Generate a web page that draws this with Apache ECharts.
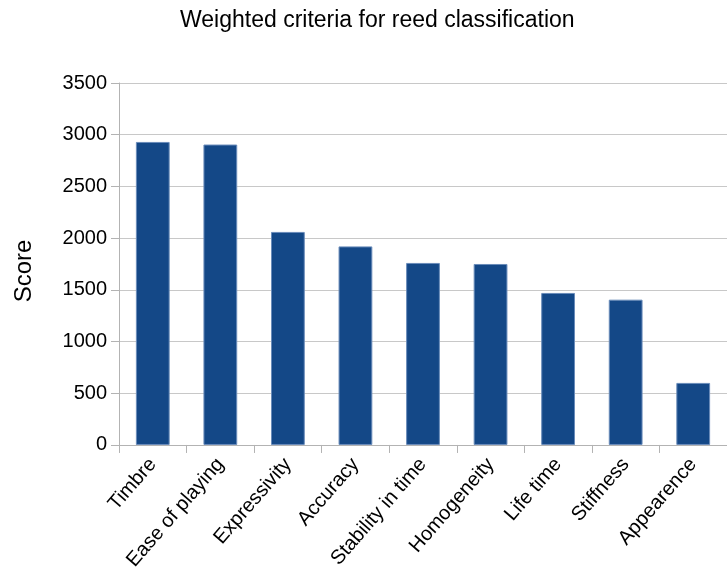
<!DOCTYPE html>
<html>
<head>
<meta charset="utf-8">
<script src="https://cdn.jsdelivr.net/npm/echarts@6/dist/echarts.min.js"></script>
<style>html,body{margin:0;padding:0;background:#fff}#c{width:727px;height:573px}</style>
</head>
<body>
<div id="c"></div>
<script>
const categories = ["Timbre", "Ease of playing", "Expressivity", "Accuracy", "Stability in time", "Homogeneity", "Life time", "Stiffness", "Appearence"];
const scores = [2930, 2905, 2060, 1920, 1760, 1750, 1470, 1405, 600];
const yTicks = [0, 500, 1000, 1500, 2000, 2500, 3000, 3500];

const chart = echarts.init(document.getElementById('c'), null, {renderer: 'canvas'});
const font = '"Liberation Sans", Arial, sans-serif';
chart.setOption({
  animation: false,
  title: {
    text: 'Weighted criteria for reed classification',
    left: 175,
    top: 4,
    textStyle: {fontFamily: font, fontSize: 23, fontWeight: 'normal', color: '#000'}
  },
  grid: {left: 119, right: -9, top: 83, bottom: 127, containLabel: false},
  xAxis: {
    type: 'category',
    data: categories,
    axisLine: {lineStyle: {color: '#b3b3b3'}},
    axisTick: {show: true, length: 8, lineStyle: {color: '#b3b3b3'}},
    axisLabel: {rotate: 49, fontFamily: font, fontSize: 20, color: '#000', margin: 16, interval: 0}
  },
  yAxis: {
    type: 'value',
    min: yTicks[0],
    max: yTicks[yTicks.length - 1],
    interval: 500,
    name: 'Score',
    nameLocation: 'middle',
    nameGap: 83,
    nameTextStyle: {fontFamily: font, fontSize: 24, color: '#000', padding: [0, 14, 0, 0]},
    axisLine: {show: true, lineStyle: {color: '#b3b3b3'}},
    axisTick: {show: true, length: 8, lineStyle: {color: '#b3b3b3'}},
    splitLine: {lineStyle: {color: '#c8c8c8'}},
    axisLabel: {fontFamily: font, fontSize: 20, color: '#000', margin: 12, formatter: v => String(v)}
  },
  series: [{
    type: 'bar',
    data: scores,
    barWidth: '50%',
    itemStyle: {color: '#144887', borderColor: '#6a8cba', borderWidth: 1}
  }]
});
</script>
</body>
</html>
